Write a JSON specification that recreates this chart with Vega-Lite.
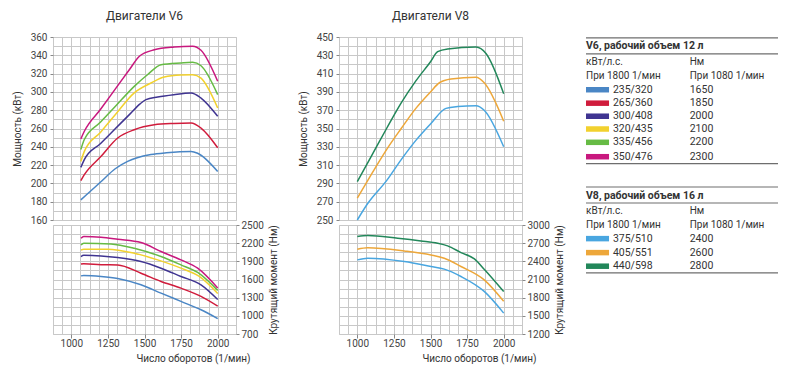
{
  "$schema": "https://vega.github.io/schema/vega-lite/v6.json",
  "background": "white",
  "padding": {"left": 11, "top": 9, "right": 22, "bottom": 14},
  "spacing": 18,
  "config": {
    "font": "Roboto",
    "view": {"stroke": "#c8c8c8"},
    "axis": {"gridColor": "#c8c8c8", "gridWidth": 1, "labelColor": "#444", "labelFontSize": 10, "titleFontSize": 10, "titleFontWeight": "normal", "titleColor": "#333", "tickColor": "#888", "domain": false, "labelOverlap": false, "labelFlush": false, "format": "d"},
    "title": {"fontSize": 12, "fontWeight": "normal", "color": "#333", "offset": 9},
    "line": {"strokeWidth": 1.5, "interpolate": "monotone"}
  },
  "datasets": {
    "v6p": [
      {"s": "235/320", "rpm": 1065, "v": 182}, {"s": "235/320", "rpm": 1100, "v": 187}, {"s": "235/320", "rpm": 1200, "v": 201.5}, {"s": "235/320", "rpm": 1300, "v": 216}, {"s": "235/320", "rpm": 1385, "v": 224}, {"s": "235/320", "rpm": 1450, "v": 228}, {"s": "235/320", "rpm": 1544, "v": 231.5}, {"s": "235/320", "rpm": 1650, "v": 233.5}, {"s": "235/320", "rpm": 1818, "v": 235}, {"s": "235/320", "rpm": 1863, "v": 233}, {"s": "235/320", "rpm": 2000, "v": 213},
      {"s": "265/360", "rpm": 1065, "v": 203}, {"s": "265/360", "rpm": 1089, "v": 209.5}, {"s": "265/360", "rpm": 1200, "v": 229}, {"s": "265/360", "rpm": 1317, "v": 249.6}, {"s": "265/360", "rpm": 1430, "v": 258.7}, {"s": "265/360", "rpm": 1567, "v": 264}, {"s": "265/360", "rpm": 1700, "v": 265.5}, {"s": "265/360", "rpm": 1818, "v": 266}, {"s": "265/360", "rpm": 1886, "v": 260.5}, {"s": "265/360", "rpm": 2000, "v": 239},
      {"s": "300/408", "rpm": 1065, "v": 217.5}, {"s": "300/408", "rpm": 1089, "v": 226}, {"s": "300/408", "rpm": 1200, "v": 243.7}, {"s": "300/408", "rpm": 1300, "v": 259.7}, {"s": "300/408", "rpm": 1400, "v": 275.7}, {"s": "300/408", "rpm": 1470, "v": 287}, {"s": "300/408", "rpm": 1510, "v": 291.5}, {"s": "300/408", "rpm": 1590, "v": 294.4}, {"s": "300/408", "rpm": 1700, "v": 297}, {"s": "300/408", "rpm": 1818, "v": 298.8}, {"s": "300/408", "rpm": 1886, "v": 293.3}, {"s": "300/408", "rpm": 2000, "v": 273.3},
      {"s": "320/435", "rpm": 1065, "v": 224}, {"s": "320/435", "rpm": 1089, "v": 235}, {"s": "320/435", "rpm": 1200, "v": 256}, {"s": "320/435", "rpm": 1300, "v": 275}, {"s": "320/435", "rpm": 1430, "v": 299}, {"s": "320/435", "rpm": 1544, "v": 309.7}, {"s": "320/435", "rpm": 1635, "v": 316.3}, {"s": "320/435", "rpm": 1749, "v": 318.5}, {"s": "320/435", "rpm": 1829, "v": 318.8}, {"s": "320/435", "rpm": 1886, "v": 315}, {"s": "320/435", "rpm": 2000, "v": 282.4},
      {"s": "335/456", "rpm": 1065, "v": 237}, {"s": "335/456", "rpm": 1089, "v": 248}, {"s": "335/456", "rpm": 1200, "v": 267}, {"s": "335/456", "rpm": 1300, "v": 284}, {"s": "335/456", "rpm": 1430, "v": 306}, {"s": "335/456", "rpm": 1522, "v": 319}, {"s": "335/456", "rpm": 1613, "v": 329.7}, {"s": "335/456", "rpm": 1749, "v": 331.6}, {"s": "335/456", "rpm": 1829, "v": 332.3}, {"s": "335/456", "rpm": 1886, "v": 328.6}, {"s": "335/456", "rpm": 2000, "v": 297},
      {"s": "350/476", "rpm": 1065, "v": 248.5}, {"s": "350/476", "rpm": 1089, "v": 257}, {"s": "350/476", "rpm": 1200, "v": 281}, {"s": "350/476", "rpm": 1300, "v": 303}, {"s": "350/476", "rpm": 1400, "v": 325}, {"s": "350/476", "rpm": 1465, "v": 339}, {"s": "350/476", "rpm": 1567, "v": 346}, {"s": "350/476", "rpm": 1703, "v": 349}, {"s": "350/476", "rpm": 1829, "v": 350}, {"s": "350/476", "rpm": 1886, "v": 345.5}, {"s": "350/476", "rpm": 2000, "v": 311.6}
    ],
    "v6t": [
      {"s": "235/320", "rpm": 1066, "v": 1660}, {"s": "235/320", "rpm": 1085, "v": 1665}, {"s": "235/320", "rpm": 1203, "v": 1650}, {"s": "235/320", "rpm": 1317, "v": 1617}, {"s": "235/320", "rpm": 1476, "v": 1512}, {"s": "235/320", "rpm": 1613, "v": 1375}, {"s": "235/320", "rpm": 1749, "v": 1238}, {"s": "235/320", "rpm": 1886, "v": 1100}, {"s": "235/320", "rpm": 2000, "v": 955},
      {"s": "265/360", "rpm": 1066, "v": 1858}, {"s": "265/360", "rpm": 1085, "v": 1860}, {"s": "265/360", "rpm": 1203, "v": 1845}, {"s": "265/360", "rpm": 1317, "v": 1841}, {"s": "265/360", "rpm": 1476, "v": 1704}, {"s": "265/360", "rpm": 1613, "v": 1568}, {"s": "265/360", "rpm": 1749, "v": 1457}, {"s": "265/360", "rpm": 1886, "v": 1321}, {"s": "265/360", "rpm": 2000, "v": 1160},
      {"s": "300/408", "rpm": 1066, "v": 1979}, {"s": "300/408", "rpm": 1085, "v": 2000}, {"s": "300/408", "rpm": 1203, "v": 1990}, {"s": "300/408", "rpm": 1317, "v": 1963}, {"s": "300/408", "rpm": 1476, "v": 1897}, {"s": "300/408", "rpm": 1613, "v": 1787}, {"s": "300/408", "rpm": 1749, "v": 1650}, {"s": "300/408", "rpm": 1886, "v": 1512}, {"s": "300/408", "rpm": 2000, "v": 1270},
      {"s": "320/435", "rpm": 1066, "v": 2088}, {"s": "320/435", "rpm": 1085, "v": 2100}, {"s": "320/435", "rpm": 1248, "v": 2100}, {"s": "320/435", "rpm": 1430, "v": 2034}, {"s": "320/435", "rpm": 1590, "v": 1924}, {"s": "320/435", "rpm": 1749, "v": 1787}, {"s": "320/435", "rpm": 1874, "v": 1650}, {"s": "320/435", "rpm": 2000, "v": 1370},
      {"s": "335/456", "rpm": 1066, "v": 2171}, {"s": "335/456", "rpm": 1085, "v": 2200}, {"s": "335/456", "rpm": 1271, "v": 2187}, {"s": "335/456", "rpm": 1430, "v": 2116}, {"s": "335/456", "rpm": 1613, "v": 1979}, {"s": "335/456", "rpm": 1749, "v": 1841}, {"s": "335/456", "rpm": 1863, "v": 1716}, {"s": "335/456", "rpm": 2000, "v": 1420},
      {"s": "350/476", "rpm": 1066, "v": 2281}, {"s": "350/476", "rpm": 1085, "v": 2309}, {"s": "350/476", "rpm": 1203, "v": 2297}, {"s": "350/476", "rpm": 1317, "v": 2264}, {"s": "350/476", "rpm": 1476, "v": 2210}, {"s": "350/476", "rpm": 1613, "v": 2062}, {"s": "350/476", "rpm": 1749, "v": 1924}, {"s": "350/476", "rpm": 1863, "v": 1787}, {"s": "350/476", "rpm": 2000, "v": 1460}
    ],
    "v8p": [
      {"s": "375/510", "rpm": 1000, "v": 250}, {"s": "375/510", "rpm": 1071, "v": 268}, {"s": "375/510", "rpm": 1200, "v": 293}, {"s": "375/510", "rpm": 1300, "v": 316}, {"s": "375/510", "rpm": 1400, "v": 337}, {"s": "375/510", "rpm": 1500, "v": 355}, {"s": "375/510", "rpm": 1606, "v": 372}, {"s": "375/510", "rpm": 1686, "v": 374}, {"s": "375/510", "rpm": 1811, "v": 375}, {"s": "375/510", "rpm": 1867, "v": 370}, {"s": "375/510", "rpm": 2000, "v": 330},
      {"s": "405/551", "rpm": 1000, "v": 274}, {"s": "405/551", "rpm": 1100, "v": 301}, {"s": "405/551", "rpm": 1200, "v": 327}, {"s": "405/551", "rpm": 1300, "v": 350}, {"s": "405/551", "rpm": 1400, "v": 372}, {"s": "405/551", "rpm": 1500, "v": 390}, {"s": "405/551", "rpm": 1561, "v": 400}, {"s": "405/551", "rpm": 1640, "v": 404}, {"s": "405/551", "rpm": 1811, "v": 406}, {"s": "405/551", "rpm": 1867, "v": 400}, {"s": "405/551", "rpm": 2000, "v": 358},
      {"s": "440/598", "rpm": 1000, "v": 292}, {"s": "440/598", "rpm": 1100, "v": 321}, {"s": "440/598", "rpm": 1200, "v": 350}, {"s": "440/598", "rpm": 1300, "v": 378}, {"s": "440/598", "rpm": 1400, "v": 402}, {"s": "440/598", "rpm": 1500, "v": 423}, {"s": "440/598", "rpm": 1549, "v": 434}, {"s": "440/598", "rpm": 1617, "v": 437}, {"s": "440/598", "rpm": 1811, "v": 439}, {"s": "440/598", "rpm": 1879, "v": 432}, {"s": "440/598", "rpm": 2000, "v": 388}
    ],
    "v8t": [
      {"s": "375/510", "rpm": 1000, "v": 2424}, {"s": "375/510", "rpm": 1071, "v": 2452}, {"s": "375/510", "rpm": 1321, "v": 2397}, {"s": "375/510", "rpm": 1503, "v": 2315}, {"s": "375/510", "rpm": 1594, "v": 2271}, {"s": "375/510", "rpm": 1708, "v": 2150}, {"s": "375/510", "rpm": 1867, "v": 1903}, {"s": "375/510", "rpm": 2000, "v": 1545},
      {"s": "405/551", "rpm": 1000, "v": 2600}, {"s": "405/551", "rpm": 1071, "v": 2625}, {"s": "405/551", "rpm": 1321, "v": 2572}, {"s": "405/551", "rpm": 1503, "v": 2506}, {"s": "405/551", "rpm": 1594, "v": 2452}, {"s": "405/551", "rpm": 1708, "v": 2315}, {"s": "405/551", "rpm": 1867, "v": 2094}, {"s": "405/551", "rpm": 2000, "v": 1740},
      {"s": "440/598", "rpm": 1000, "v": 2809}, {"s": "440/598", "rpm": 1071, "v": 2825}, {"s": "440/598", "rpm": 1276, "v": 2781}, {"s": "440/598", "rpm": 1435, "v": 2737}, {"s": "440/598", "rpm": 1549, "v": 2699}, {"s": "440/598", "rpm": 1617, "v": 2655}, {"s": "440/598", "rpm": 1708, "v": 2545}, {"s": "440/598", "rpm": 1800, "v": 2440}, {"s": "440/598", "rpm": 1870, "v": 2260}, {"s": "440/598", "rpm": 2000, "v": 1900}
    ],
    "legend": [
      {"kind": "rule", "y": 0}, {"kind": "rule", "y": 1.19}, {"kind": "rule", "y": 9.35},
      {"kind": "rule", "y": 11.08}, {"kind": "rule", "y": 12.27}, {"kind": "rule", "y": 17.47},
      {"kind": "head", "y": 0.63, "col": 0, "text": "V6, рабочий объем 12 л"},
      {"kind": "lab", "y": 1.78, "col": 0, "text": "кВт/л.с."}, {"kind": "lab", "y": 1.78, "col": 0.54, "text": "Нм"},
      {"kind": "lab", "y": 2.8, "col": 0, "text": "При 1800 1/мин"}, {"kind": "lab", "y": 2.8, "col": 0.54, "text": "При 1080 1/мин"},
      {"kind": "entry", "y": 3.85, "s": "235/320", "nm": "1650"},
      {"kind": "entry", "y": 4.85, "s": "265/360", "nm": "1850"},
      {"kind": "entry", "y": 5.82, "s": "300/408", "nm": "2000"},
      {"kind": "entry", "y": 6.77, "s": "320/435", "nm": "2100"},
      {"kind": "entry", "y": 7.76, "s": "335/456", "nm": "2200"},
      {"kind": "entry", "y": 8.83, "s": "350/476", "nm": "2300"},
      {"kind": "head", "y": 11.72, "col": 0, "text": "V8, рабочий объем 16 л"},
      {"kind": "lab", "y": 12.89, "col": 0, "text": "кВт/л.с."}, {"kind": "lab", "y": 12.89, "col": 0.54, "text": "Нм"},
      {"kind": "lab", "y": 13.93, "col": 0, "text": "При 1800 1/мин"}, {"kind": "lab", "y": 13.93, "col": 0.54, "text": "При 1080 1/мин"},
      {"kind": "entry", "y": 14.92, "s": "375/510", "nm": "2400"},
      {"kind": "entry", "y": 15.96, "s": "405/551", "nm": "2600"},
      {"kind": "entry", "y": 16.97, "s": "440/598", "nm": "2800"}
    ]
  },
  "hconcat": [
    {
      "vconcat": [
        {
          "width": 183, "height": 183,
          "title": "Двигатели V6",
          "data": {"name": "v6p"},
          "mark": "line",
          "encoding": {
            "x": {"field": "rpm", "type": "quantitative", "scale": {"domain": [875, 2125], "nice": false, "zero": false},
              "axis": {"values": [875, 937.5, 1000, 1062.5, 1125, 1187.5, 1250, 1312.5, 1375, 1437.5, 1500, 1562.5, 1625, 1687.5, 1750, 1812.5, 1875, 1937.5, 2000, 2062.5, 2125], "labels": false, "ticks": false, "title": null}},
            "y": {"field": "v", "type": "quantitative", "scale": {"domain": [160, 360], "nice": false, "zero": false},
              "axis": {"values": [160, 170, 180, 190, 200, 210, 220, 230, 240, 250, 260, 270, 280, 290, 300, 310, 320, 330, 340, 350, 360], "labelExpr": "datum.value % 20 == 0 ? datum.label : ''", "tickSize": 3, "tickOpacity": {"condition": {"test": "datum.value % 20 == 0", "value": 1}, "value": 0}, "labelPadding": 3, "titlePadding": 8, "title": "Мощность (кВт)"}},
            "color": {"field": "s", "type": "nominal", "legend": null,
              "scale": {"domain": ["235/320", "265/360", "300/408", "320/435", "335/456", "350/476", "375/510", "405/551", "440/598"], "range": ["#4a86c5", "#d01c3c", "#3f3491", "#f2d12e", "#66bb44", "#c8187e", "#49a6e0", "#eda73a", "#22875a"]}}
          }
        },
        {
          "width": 183, "height": 109,
          "data": {"name": "v6t"},
          "mark": "line",
          "encoding": {
            "x": {"field": "rpm", "type": "quantitative", "scale": {"domain": [875, 2125], "nice": false, "zero": false},
              "axis": {"values": [875, 937.5, 1000, 1062.5, 1125, 1187.5, 1250, 1312.5, 1375, 1437.5, 1500, 1562.5, 1625, 1687.5, 1750, 1812.5, 1875, 1937.5, 2000, 2062.5, 2125], "labelExpr": "datum.value % 250 == 0 ? datum.label : ''", "tickSize": 4, "tickOpacity": {"condition": {"test": "datum.value % 250 == 0", "value": 1}, "value": 0}, "labelPadding": 0, "titlePadding": 5, "title": "Число оборотов (1/мин)", "titleAlign": "right", "titleX": 197}},
            "y": {"field": "v", "type": "quantitative", "scale": {"domain": [700, 2500], "nice": false, "zero": false},
              "axis": {"orient": "right", "values": [700, 850, 1000, 1150, 1300, 1450, 1600, 1750, 1900, 2050, 2200, 2350, 2500], "labelExpr": "(datum.value - 700) % 300 == 0 ? datum.label : ''", "tickSize": 3, "tickOpacity": {"condition": {"test": "(datum.value - 700) % 300 == 0", "value": 1}, "value": 0}, "labelPadding": 2, "titlePadding": 5, "titleAngle": 270, "titleBaseline": "top", "title": "Крутящий момент (Нм)"}},
            "color": {"field": "s", "type": "nominal", "legend": null,
              "scale": {"domain": ["235/320", "265/360", "300/408", "320/435", "335/456", "350/476", "375/510", "405/551", "440/598"], "range": ["#4a86c5", "#d01c3c", "#3f3491", "#f2d12e", "#66bb44", "#c8187e", "#49a6e0", "#eda73a", "#22875a"]}}
          }
        }
      ],
      "spacing": 5,
      "bounds": "flush"
    },
    {
      "vconcat": [
        {
          "width": 183, "height": 183,
          "title": "Двигатели V8",
          "data": {"name": "v8p"},
          "mark": "line",
          "encoding": {
            "x": {"field": "rpm", "type": "quantitative", "scale": {"domain": [875, 2125], "nice": false, "zero": false},
              "axis": {"values": [875, 937.5, 1000, 1062.5, 1125, 1187.5, 1250, 1312.5, 1375, 1437.5, 1500, 1562.5, 1625, 1687.5, 1750, 1812.5, 1875, 1937.5, 2000, 2062.5, 2125], "labels": false, "ticks": false, "title": null}},
            "y": {"field": "v", "type": "quantitative", "scale": {"domain": [250, 450], "nice": false, "zero": false},
              "axis": {"values": [250, 260, 270, 280, 290, 300, 310, 320, 330, 340, 350, 360, 370, 380, 390, 400, 410, 420, 430, 440, 450], "labelExpr": "(datum.value - 250) % 20 == 0 ? datum.label : ''", "tickSize": 3, "tickOpacity": {"condition": {"test": "(datum.value - 250) % 20 == 0", "value": 1}, "value": 0}, "labelPadding": 3, "titlePadding": 8, "title": "Мощность (кВт)"}},
            "color": {"field": "s", "type": "nominal", "legend": null,
              "scale": {"domain": ["235/320", "265/360", "300/408", "320/435", "335/456", "350/476", "375/510", "405/551", "440/598"], "range": ["#4a86c5", "#d01c3c", "#3f3491", "#f2d12e", "#66bb44", "#c8187e", "#49a6e0", "#eda73a", "#22875a"]}}
          }
        },
        {
          "width": 183, "height": 109,
          "data": {"name": "v8t"},
          "mark": "line",
          "encoding": {
            "x": {"field": "rpm", "type": "quantitative", "scale": {"domain": [875, 2125], "nice": false, "zero": false},
              "axis": {"values": [875, 937.5, 1000, 1062.5, 1125, 1187.5, 1250, 1312.5, 1375, 1437.5, 1500, 1562.5, 1625, 1687.5, 1750, 1812.5, 1875, 1937.5, 2000, 2062.5, 2125], "labelExpr": "datum.value % 250 == 0 ? datum.label : ''", "tickSize": 4, "tickOpacity": {"condition": {"test": "datum.value % 250 == 0", "value": 1}, "value": 0}, "labelPadding": 0, "titlePadding": 5, "title": "Число оборотов (1/мин)", "titleAlign": "right", "titleX": 197}},
            "y": {"field": "v", "type": "quantitative", "scale": {"domain": [1200, 3000], "nice": false, "zero": false},
              "axis": {"orient": "right", "values": [1200, 1350, 1500, 1650, 1800, 1950, 2100, 2250, 2400, 2550, 2700, 2850, 3000], "labelExpr": "(datum.value - 1200) % 300 == 0 ? datum.label : ''", "tickSize": 3, "tickOpacity": {"condition": {"test": "(datum.value - 1200) % 300 == 0", "value": 1}, "value": 0}, "labelPadding": 2, "titlePadding": 5, "titleAngle": 270, "titleBaseline": "top", "title": "Крутящий момент (Нм)"}},
            "color": {"field": "s", "type": "nominal", "legend": null,
              "scale": {"domain": ["235/320", "265/360", "300/408", "320/435", "335/456", "350/476", "375/510", "405/551", "440/598"], "range": ["#4a86c5", "#d01c3c", "#3f3491", "#f2d12e", "#66bb44", "#c8187e", "#49a6e0", "#eda73a", "#22875a"]}}
          }
        }
      ],
      "spacing": 5,
      "bounds": "flush"
    },
    {
      "width": 192, "height": 244,
      "view": {"stroke": null},
      "data": {"name": "legend"},
      "encoding": {
        "y": {"field": "y", "type": "quantitative", "scale": {"domain": [-0.07, 18.07], "reverse": true, "nice": false, "zero": false}, "axis": null}
      },
      "layer": [
        {
          "transform": [{"filter": "datum.kind == 'rule'"}],
          "mark": {"type": "rule", "color": "#6e6e6e", "strokeWidth": 1.2},
          "encoding": {}
        },
        {
          "transform": [{"filter": "datum.kind == 'head'"}],
          "mark": {"type": "text", "align": "left", "baseline": "middle", "fontWeight": "bold", "fontSize": 10.5, "color": "#333"},
          "encoding": {
            "x": {"field": "col", "type": "quantitative", "scale": {"domain": [0, 1], "nice": false, "zero": false}, "axis": null},
            "text": {"field": "text"}
          }
        },
        {
          "transform": [{"filter": "datum.kind == 'lab'"}],
          "mark": {"type": "text", "align": "left", "baseline": "middle", "fontSize": 10, "color": "#333"},
          "encoding": {
            "x": {"field": "col", "type": "quantitative", "scale": {"domain": [0, 1], "nice": false, "zero": false}, "axis": null},
            "text": {"field": "text"}
          }
        },
        {
          "transform": [{"filter": "datum.kind == 'entry'"}],
          "mark": {"type": "rule", "strokeWidth": 5.5, "strokeCap": "butt"},
          "encoding": {
            "x": {"datum": 0, "type": "quantitative", "scale": {"domain": [0, 1], "nice": false, "zero": false}, "axis": null},
            "x2": {"datum": 0.12},
            "color": {"field": "s", "type": "nominal", "legend": null,
              "scale": {"domain": ["235/320", "265/360", "300/408", "320/435", "335/456", "350/476", "375/510", "405/551", "440/598"], "range": ["#4a86c5", "#d01c3c", "#3f3491", "#f2d12e", "#66bb44", "#c8187e", "#49a6e0", "#eda73a", "#22875a"]}}
          }
        },
        {
          "transform": [{"filter": "datum.kind == 'entry'"}],
          "mark": {"type": "text", "align": "left", "baseline": "middle", "fontSize": 10.5, "color": "#333"},
          "encoding": {
            "x": {"datum": 0.14, "type": "quantitative", "scale": {"domain": [0, 1], "nice": false, "zero": false}, "axis": null},
            "text": {"field": "s"}
          }
        },
        {
          "transform": [{"filter": "datum.kind == 'entry'"}],
          "mark": {"type": "text", "align": "left", "baseline": "middle", "fontSize": 10.5, "color": "#333"},
          "encoding": {
            "x": {"datum": 0.54, "type": "quantitative", "scale": {"domain": [0, 1], "nice": false, "zero": false}, "axis": null},
            "text": {"field": "nm"}
          }
        }
      ]
    }
  ]
}
